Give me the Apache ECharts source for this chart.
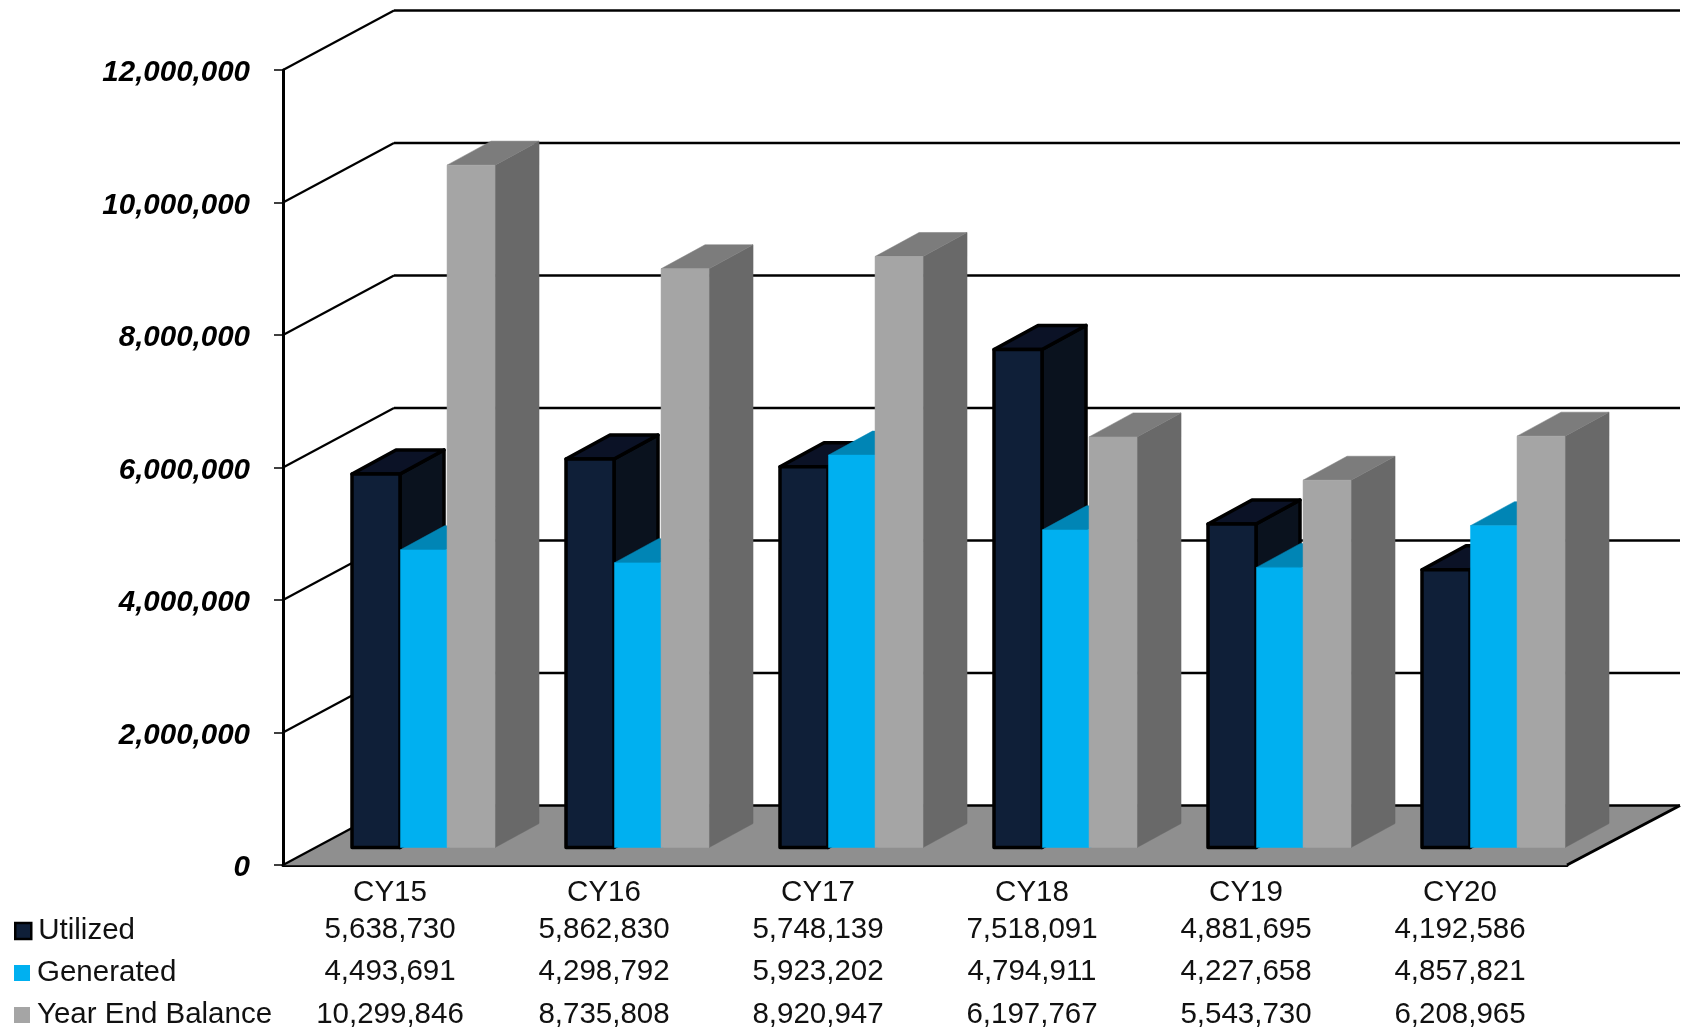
<!DOCTYPE html>
<html>
<head>
<meta charset="utf-8">
<style>html,body{margin:0;padding:0;background:#fff}#chart{width:1684px;height:1030px}</style>
<script src="https://cdn.jsdelivr.net/npm/echarts@6/dist/echarts.min.js"></script>
</head>
<body>
<div id="chart"></div>
<script>
const categories = ['CY15','CY16','CY17','CY18','CY19','CY20'];
const utilized = [5638730,5862830,5748139,7518091,4881695,4192586];
const generated = [4493691,4298792,5923202,4794911,4227658,4857821];
const yearEndBalance = [10299846,8735808,8920947,6197767,5543730,6208965];
const yTicks = [0,2000000,4000000,6000000,8000000,10000000,12000000];

const FONT = '"Liberation Sans", Arial, sans-serif';
const fmt = v => Number(v).toLocaleString('en-US');
const WALL = {dx:111, dy:-59.5};
const PLANE = {dx:34, dy:-17.5};
const BAR = {dx:44, dy:-24, ratio:48/214};

function poly(points, fill, stroke, lw){
  return {type:'polygon', shape:{points},
    style:{fill, stroke:stroke||fill, lineWidth:stroke?lw:0.5, lineJoin:'round'}};
}
function line(x1,y1,x2,y2,w){
  return {type:'line', shape:{x1,y1,x2,y2}, style:{stroke:'#000', lineWidth:w}};
}
function cuboid(offset, c, borderW){
  return function(params, api){
    const band = api.size([1,0])[0];
    const w = band*BAR.ratio;
    const top = api.coord([api.value(0), api.value(1)]);
    const base = api.coord([api.value(0), 0]);
    const x0 = top[0] + PLANE.dx + offset*w - w/2;
    const x1 = x0 + w;
    const yT = top[1] + PLANE.dy, yB = base[1] + PLANE.dy;
    const dx = BAR.dx, dy = BAR.dy;
    return {type:'group', children:[
      poly([[x1,yT],[x1+dx,yT+dy],[x1+dx,yB+dy],[x1,yB]], c.side, c.stroke, borderW),
      poly([[x0,yT],[x0+dx,yT+dy],[x1+dx,yT+dy],[x1,yT]], c.top, c.stroke, borderW),
      poly([[x0,yT],[x1,yT],[x1,yB],[x0,yB]], c.front, c.stroke, borderW)
    ]};
  };
}
function barSeries(name, values, offset, c, bw){
  return {name, type:'custom', clip:false, silent:true,
    itemStyle:{color:c.front},
    encode:{x:0,y:1},
    data:values.map((v,i)=>[i,v]),
    renderItem:cuboid(offset,c,bw)};
}
function legendRow(name, top, itemStyle){
  return {
    orient:'vertical', left:14, top, padding:0, itemWidth:16, itemHeight:16,
    selectedMode:false, icon:'rect',
    textStyle:{fontFamily:FONT, fontSize:29.5, color:'#111', padding:[0,0,0,2], lineHeight:34},
    data:[{name, itemStyle}]
  };
}

const option = {
  backgroundColor:'#fff',
  animation:false,
  textStyle:{fontFamily:FONT},
  grid:{left:283, top:70, width:1284, height:796, containLabel:false},
  legend:[
    legendRow('Utilized', 914, {color:'#0F1F38',borderColor:'#000',borderWidth:2.5}),
    legendRow('Generated', 956, {color:'#00B0F0'}),
    legendRow('Year End Balance', 998, {color:'#A5A5A5'})
  ],
  xAxis:{
    type:'category', data:categories,
    axisLine:{show:true, lineStyle:{color:'#000', width:3}},
    axisTick:{show:false},
    axisLabel:{
      margin:11, interval:0, color:'#111', fontFamily:FONT, fontSize:29.5,
      formatter:(name,i)=>`{h|${name}}\n{a|${fmt(utilized[i])}}\n{b|${fmt(generated[i])}}\n{c|${fmt(yearEndBalance[i])}}`,
      rich:{
        h:{fontSize:29.5,lineHeight:34,fontFamily:FONT,color:'#111'},
        a:{fontSize:29.5,lineHeight:40,fontFamily:FONT,color:'#111'},
        b:{fontSize:29.5,lineHeight:44,fontFamily:FONT,color:'#111'},
        c:{fontSize:29.5,lineHeight:42,fontFamily:FONT,color:'#111'}
      }
    }
  },
  yAxis:{
    type:'value', min:0, max:12000000, interval:2000000,
    splitLine:{show:false},
    axisLine:{show:true, lineStyle:{color:'#000', width:3}},
    axisTick:{show:true, length:9, lineStyle:{color:'#000', width:1.5}},
    axisLabel:{margin:33, color:'#000', formatter:v=>`{v|${fmt(v)}}`,
      rich:{v:{fontFamily:FONT, fontSize:29.5, fontWeight:'bold', fontStyle:'italic', color:'#000', padding:[6,0,0,0]}}}
  },
  series:[
    {name:'floor', type:'custom', clip:false, silent:true, encode:{x:0,y:1}, data:[[0,0]],
      renderItem(params, api){
        const cs = params.coordSys;
        const y = api.coord([0,0])[1], l = cs.x, r = cs.x+cs.width;
        return {type:'group', children:[
          poly([[l,y],[r,y],[r+WALL.dx+2,y+WALL.dy],[l+WALL.dx,y+WALL.dy]], '#8F8F8F'),
          line(r,y,r+WALL.dx+2,y+WALL.dy,3)
        ]};
      }},
    {name:'walls', type:'custom', clip:false, silent:true, encode:{x:0,y:1},
      data:yTicks.map(v=>[0,v]),
      renderItem(params, api){
        const cs = params.coordSys;
        const y = api.coord([0,api.value(1)])[1], l = cs.x, r = cs.x+cs.width;
        return {type:'group', children:[
          line(l,y,l+WALL.dx,y+WALL.dy,2.2),
          line(l+WALL.dx,y+WALL.dy,r+WALL.dx+2,y+WALL.dy,2.6)
        ]};
      }},
    barSeries('Utilized', utilized, -1, {front:'#0F1F38',side:'#0A121E',top:'#0B1226',stroke:'#000'}, 3.5),
    barSeries('Generated', generated, 0.01, {front:'#00B0F0',side:'#0085B5',top:'#0085B5'}, 0),
    barSeries('Year End Balance', yearEndBalance, 0.98, {front:'#A5A5A5',side:'#696969',top:'#7C7C7C'}, 0)
  ]
};
const chart = echarts.init(document.getElementById('chart'), null, {renderer:'canvas'});
chart.setOption(option);
</script>
</body>
</html>
